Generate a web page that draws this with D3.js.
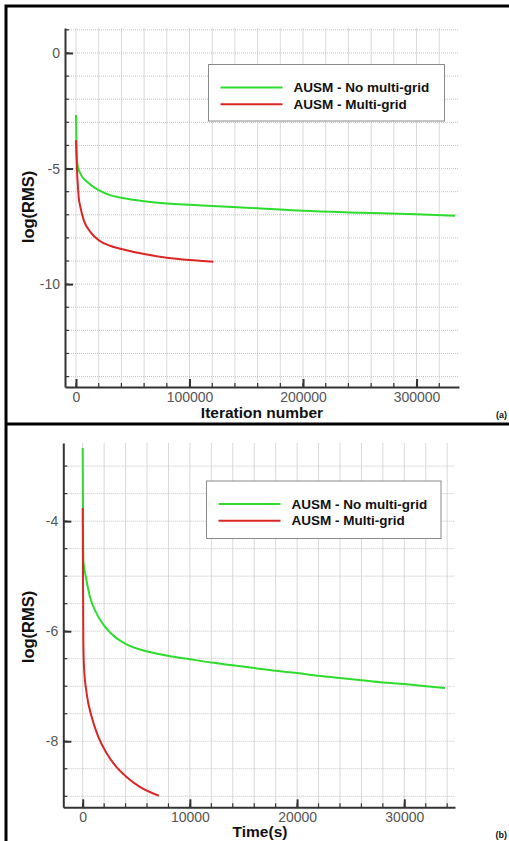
<!DOCTYPE html>
<html><head><meta charset="utf-8">
<script src="https://cdn.jsdelivr.net/npm/d3@7"></script>
<style>body{margin:0;background:#fff}svg{display:block}text{font-family:"Liberation Sans",Arial,sans-serif}</style>
</head><body>
<script>
// ---- Data: panel (a) log(RMS) vs iteration number ----
const iterNoMG   = [0, 300, 800, 1500, 3800, 6000, 9700, 14000, 20000, 30000, 40000, 60000, 80000, 100000, 120000, 160000, 200000, 250000, 300000, 334000];
const rmsIterNoMG= [-2.68, -3.6, -4.5, -4.9, -5.21, -5.4, -5.57, -5.75, -5.93, -6.15, -6.26, -6.41, -6.51, -6.57, -6.62, -6.72, -6.83, -6.91, -6.98, -7.04];
const iterMG     = [0, 300, 800, 1500, 2500, 3800, 6800, 12600, 20000, 30000, 40000, 60000, 80000, 100000, 121000];
const rmsIterMG  = [-3.77, -4.3, -5.0, -5.64, -6.3, -6.65, -7.23, -7.74, -8.1, -8.34, -8.48, -8.7, -8.86, -8.96, -9.03];
// ---- Data: panel (b) log(RMS) vs time(s) ----
const timeNoMG   = [0, 20, 40, 60, 300, 680, 1300, 2000, 2850, 4000, 6050, 8060, 10000, 12000, 14000, 16000, 18000, 20000, 22000, 24000, 26000, 28000, 30000, 32000, 33800];
const rmsTimeNoMG= [-2.67, -3.5, -4.2, -4.71, -5.02, -5.38, -5.68, -5.9, -6.08, -6.23, -6.37, -6.45, -6.51, -6.57, -6.62, -6.67, -6.72, -6.76, -6.81, -6.85, -6.89, -6.93, -6.96, -7.0, -7.03];
const timeMG     = [0, 30, 60, 120, 370, 840, 1460, 2230, 3160, 4090, 5330, 7100];
const rmsTimeMG  = [-3.76, -5.0, -6.17, -6.65, -7.13, -7.56, -7.92, -8.22, -8.47, -8.65, -8.83, -8.99];
// ---- Ticks & labels ----
const seriesNames = ["AUSM - No multi-grid", "AUSM - Multi-grid"];
const seriesColors = ["#2ddc2d", "#dc2626"];
const xTicksA = [0, 100000, 200000, 300000];
const yTicksA = [0, -5, -10];
const xTicksB = [0, 10000, 20000, 30000];
const yTicksB = [-4, -6, -8];

const svg = d3.select("body").append("svg").attr("width", 509).attr("height", 841);

function panel(cfg) {
  const x = d3.scaleLinear().domain(cfg.xDom).range([cfg.left, cfg.right]);
  const y = d3.scaleLinear().domain(cfg.yDom).range([cfg.bottom, cfg.top]);
  const g = svg.append("g");
  const xg = d3.range(cfg.xGrid[0], cfg.xGrid[1] + 1e-9, cfg.xGrid[2]);
  const yg = d3.range(cfg.yGrid[0], cfg.yGrid[1] + 1e-9, cfg.yGrid[2]);
  // vertical grid
  g.selectAll(".vg").data(xg).join("line")
    .attr("x1", d => x(d)).attr("x2", d => x(d)).attr("y1", cfg.top).attr("y2", cfg.bottom)
    .attr("stroke", "#d9d9d9").attr("stroke-width", 1);
  // horizontal grid
  g.selectAll(".hg").data(yg).join("line")
    .attr("x1", cfg.left).attr("x2", cfg.right).attr("y1", d => y(d)).attr("y2", d => y(d))
    .attr("stroke", "#c4c4c4").attr("stroke-width", 1).attr("stroke-dasharray", "1,1");
  // minor ticks
  g.selectAll(".xm").data(xg).join("line")
    .attr("x1", d => x(d)).attr("x2", d => x(d)).attr("y1", cfg.bottom).attr("y2", cfg.bottom - 4)
    .attr("stroke", "#333").attr("stroke-width", 1.2);
  g.selectAll(".ym").data(yg).join("line")
    .attr("x1", cfg.left).attr("x2", cfg.left + 4).attr("y1", d => y(d)).attr("y2", d => y(d))
    .attr("stroke", "#333").attr("stroke-width", 1.2);
  // axes with major ticks (inward)
  const fmt = d => String(d);
  const xAxis = d3.axisBottom(x).tickValues(cfg.xTicks).tickSizeInner(-8).tickSizeOuter(0).tickPadding(5).tickFormat(fmt);
  const ya = d3.axisLeft(y).tickValues(cfg.yTicks).tickSizeInner(-8).tickSizeOuter(0).tickPadding(5).tickFormat(fmt);
  const gx = g.append("g").attr("transform", `translate(0,${cfg.bottom})`).call(xAxis);
  const gy = g.append("g").attr("transform", `translate(${cfg.left},0)`).call(ya);
  [gx, gy].forEach(a => {
    a.select(".domain").attr("stroke", "#333").attr("stroke-width", 2);
    a.selectAll(".tick line").attr("stroke", "#333").attr("stroke-width", 2);
    a.selectAll(".tick text").attr("font-size", 14).attr("fill", "#555").attr("font-family", "Liberation Sans, Arial, sans-serif");
  });
  // lines
  const line = d3.line().x(d => x(d[0])).y(d => y(d[1])).curve(d3.curveMonotoneX);
  cfg.series.forEach((s, i) => {
    g.append("path").datum(d3.zip(s[0], s[1])).attr("d", line)
      .attr("fill", "none").attr("stroke", seriesColors[i]).attr("stroke-width", 2);
  });
  // axis titles
  g.append("text").attr("x", cfg.xTitlePos[0]).attr("y", cfg.xTitlePos[1]).attr("text-anchor", "middle")
    .attr("font-size", 15.5).attr("font-weight", "bold").attr("fill", "#111").text(cfg.xTitle);
  g.append("text").attr("transform", `translate(34,${cfg.yTitleY}) rotate(-90)`).attr("text-anchor", "middle")
    .attr("font-size", 16.5).attr("font-weight", "bold").attr("fill", "#111").text("log(RMS)");
  g.append("text").attr("x", 507).attr("y", cfg.tagY).attr("text-anchor", "end")
    .attr("font-size", 9).attr("font-weight", "bold").attr("fill", "#111").text(cfg.tag);
  // legend
  const L = cfg.legend;
  g.append("rect").attr("x", L.x).attr("y", L.y).attr("width", L.w).attr("height", L.h)
    .attr("fill", "#fff").attr("stroke", "#8a8a8a").attr("stroke-width", 1);
  seriesNames.forEach((n, i) => {
    const ly = L.y + L.row0 + i * L.dy;
    g.append("line").attr("x1", L.x + 12).attr("x2", L.x + 74).attr("y1", ly).attr("y2", ly)
      .attr("stroke", seriesColors[i]).attr("stroke-width", 2);
    g.append("text").attr("x", L.x + 85).attr("y", ly + 4.5).attr("font-size", 13.5).attr("font-weight", "bold")
      .attr("fill", "#111").text(n);
  });
}

panel({
  xDom: [-9700, 337400], yDom: [-14.45, 1.08], left: 65, right: 459, top: 28, bottom: 387,
  xGrid: [0, 320000, 20000], yGrid: [-14, 1, 1], xTicks: xTicksA, yTicks: yTicksA,
  series: [[iterNoMG, rmsIterNoMG], [iterMG, rmsIterMG]],
  xTitle: "Iteration number", xTitlePos: [262, 418], yTitleY: 207, tag: "(a)", tagY: 418,
  legend: { x: 208.5, y: 64.5, w: 236, h: 56.5, row0: 23, dy: 16.7 }
});
panel({
  xDom: [-1810, 34730], yDom: [-9.2, -2.58], left: 63.3, right: 455, top: 443, bottom: 807.3,
  xGrid: [0, 34000, 2000], yGrid: [-9, -3, 0.5], xTicks: xTicksB, yTicks: yTicksB,
  series: [[timeNoMG, rmsTimeNoMG], [timeMG, rmsTimeMG]],
  xTitle: "Time(s)", xTitlePos: [260, 837], yTitleY: 627, tag: "(b)", tagY: 838,
  legend: { x: 206.5, y: 481, w: 234.5, h: 57.5, row0: 23, dy: 16.7 }
});

// frame
svg.append("path").attr("d", "M6,845 V6 H515 M5,424 H515").attr("fill", "none")
  .attr("stroke", "#000").attr("stroke-width", 3);
</script>
</body></html>
